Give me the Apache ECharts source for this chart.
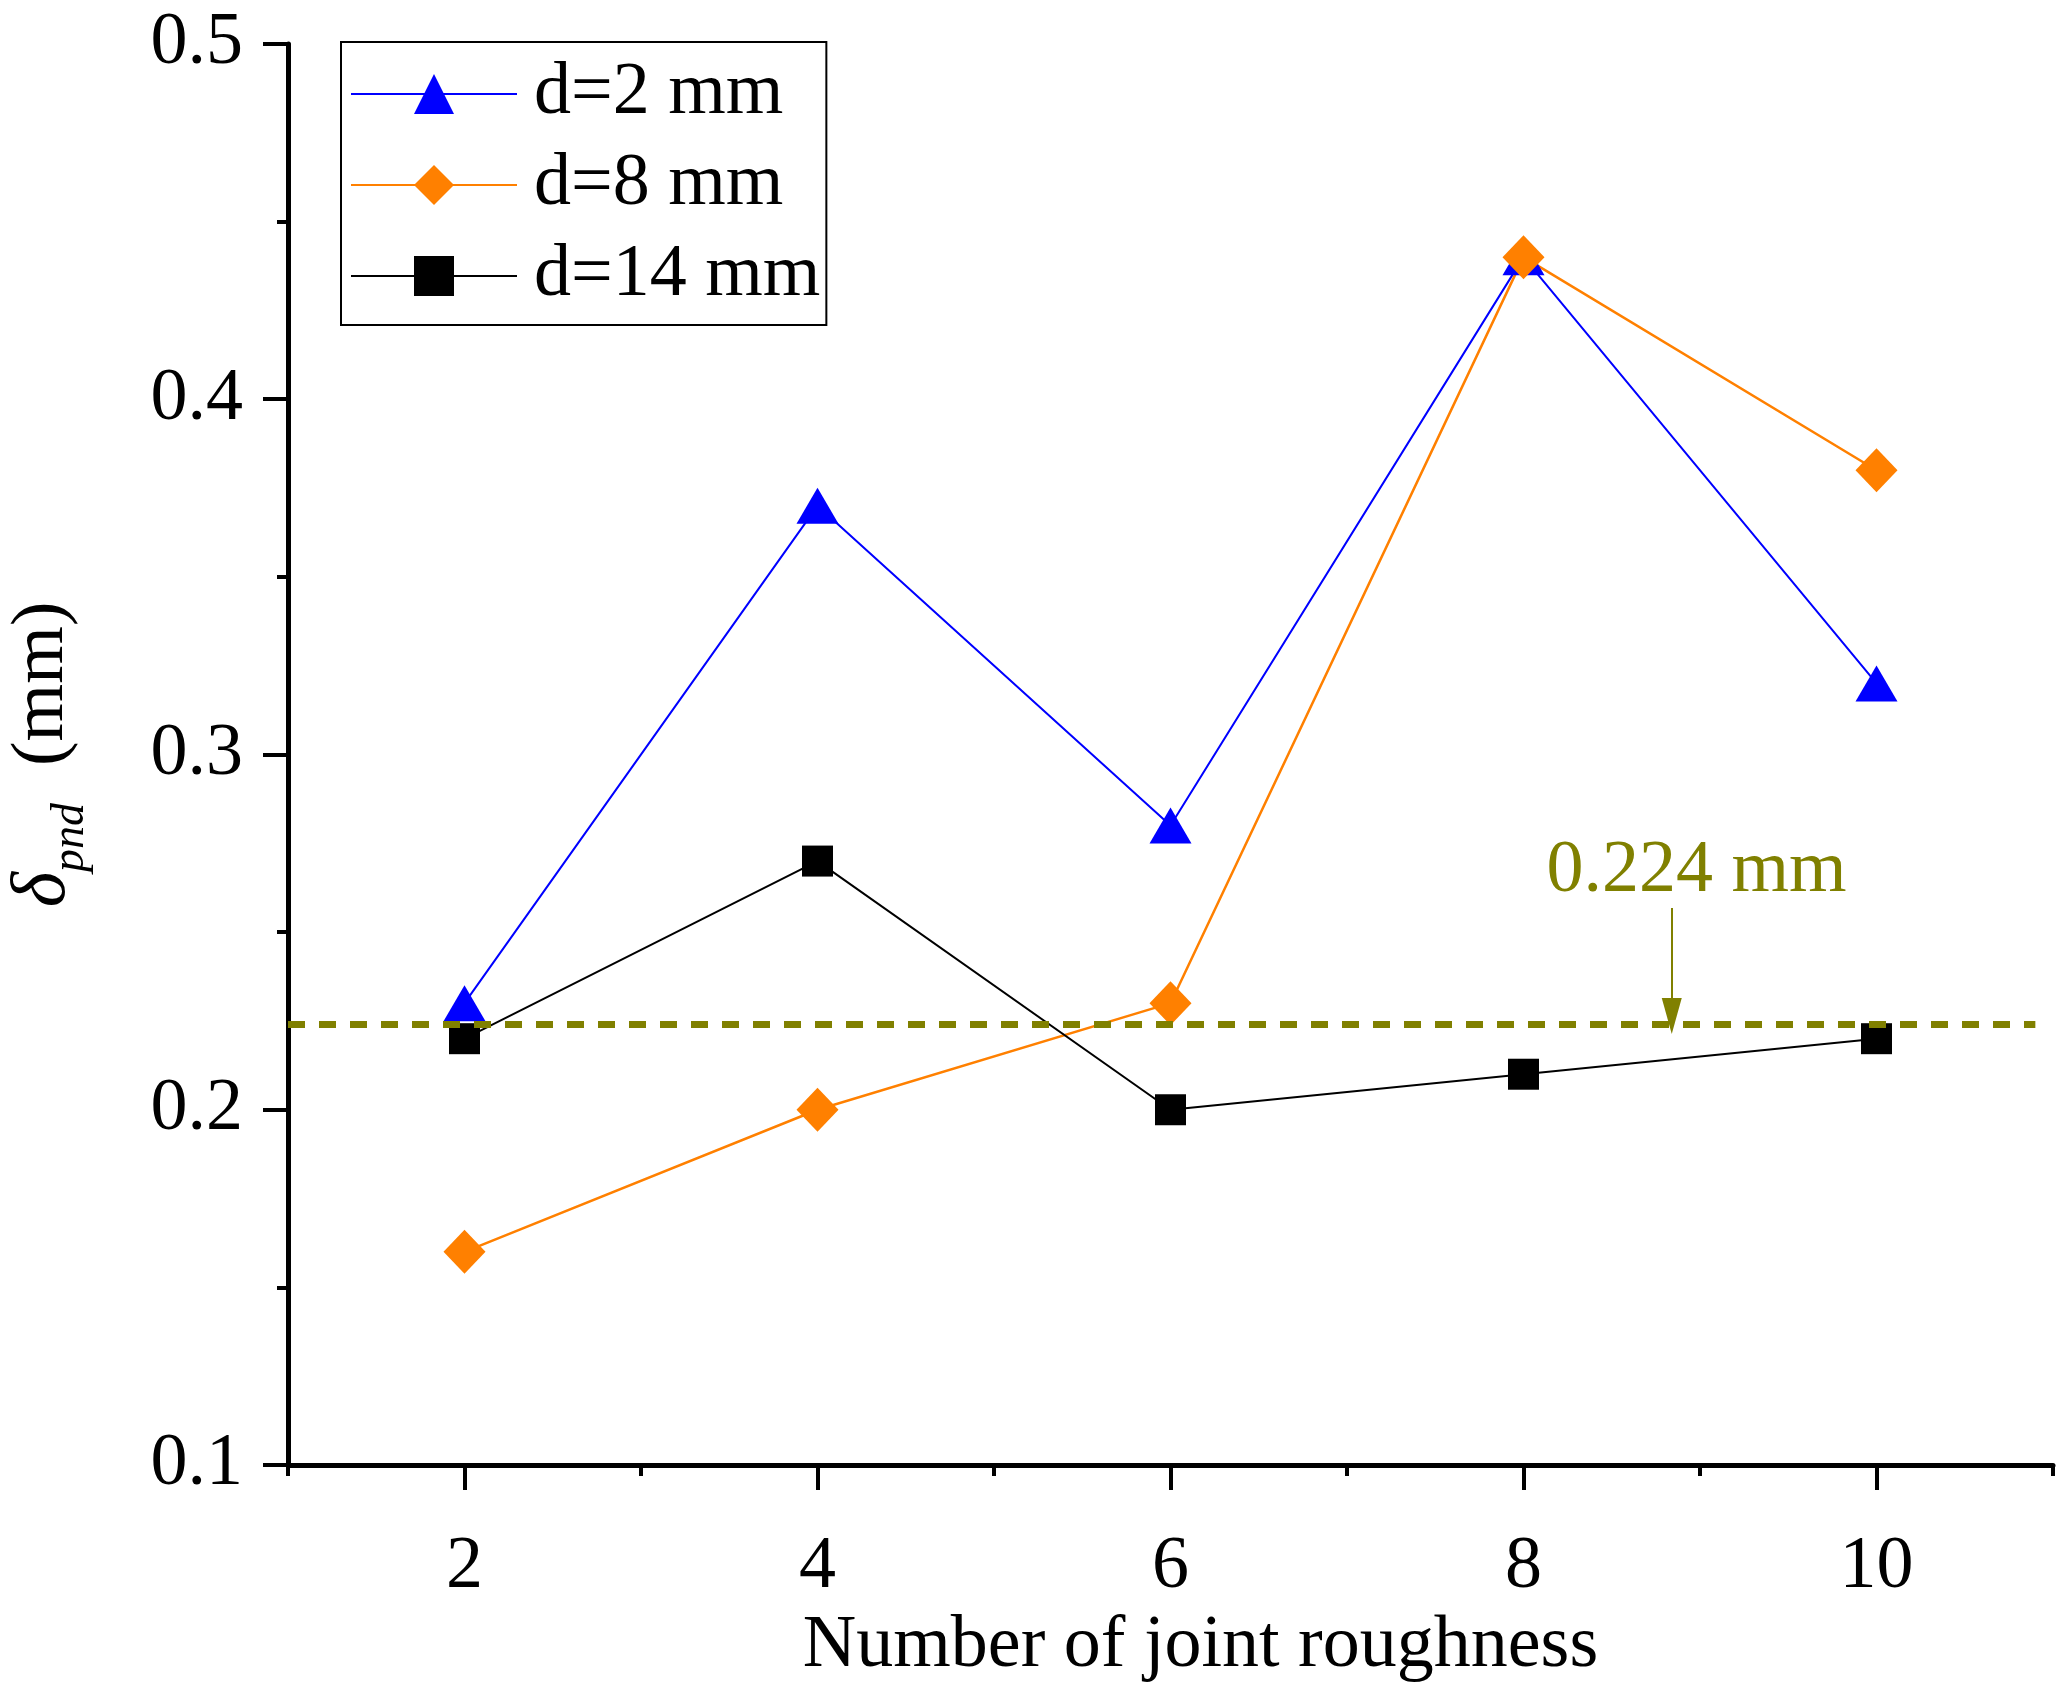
<!DOCTYPE html>
<html>
<head>
<meta charset="utf-8">
<script src="https://cdn.jsdelivr.net/npm/echarts@6/dist/echarts.min.js"></script>
<style>
html,body{margin:0;padding:0;background:#fff;}
#chart{width:2067px;height:1697px;}
</style>
</head>
<body>
<div id="chart"></div>
<script>
// ---- data ----
const xValues = [2, 4, 6, 8, 10];
const d2 = [0.23, 0.37, 0.28, 0.44, 0.32];
const d8 = [0.16, 0.20, 0.23, 0.44, 0.38];
const d14 = [0.22, 0.27, 0.20, 0.21, 0.22];
const seriesNames = ['d=2 mm', 'd=8 mm', 'd=14 mm'];
const refValue = 0.224;
const refLabel = '0.224 mm';
const xTickLabels = ['2', '4', '6', '8', '10'];
const yTickLabels = ['0.1', '0.2', '0.3', '0.4', '0.5'];

const FONT = "'Times New Roman', 'Liberation Serif', serif";
const OLIVE = '#808000';
const pairs = (ys) => xValues.map((x, i) => [x, ys[i]]);

const chart = echarts.init(document.getElementById('chart'), null, {renderer: 'canvas'});
const gridRect = {left: 288, right: 14, top: 44, bottom: 232, outerBoundsMode: 'none', containLabel: false};

chart.setOption({
  backgroundColor: '#ffffff',
  animation: false,
  grid: [Object.assign({}, gridRect), Object.assign({}, gridRect)],
  legend: {
    data: seriesNames,
    orient: 'vertical',
    left: 341,
    top: 42,
    padding: [12, 6, 9, 9],
    itemWidth: 166,
    itemHeight: 50,
    itemGap: 11,
    borderColor: '#000',
    borderWidth: 2,
    selectedMode: false,
    textStyle: {fontFamily: FONT, fontSize: 74, lineHeight: 80, color: '#000', padding: [0, 0, 0, 12]}
  },
  xAxis: [
    {
      gridIndex: 0, type: 'value', min: 1, max: 11, interval: 2,
      name: 'Number of joint roughness',
      nameLocation: 'middle', nameGap: 145, nameMoveOverlap: false,
      nameTextStyle: {fontFamily: FONT, fontSize: 74, lineHeight: 74, color: '#000', padding: [0, 0, 0, 60]},
      axisLine: {show: true, onZero: false, lineStyle: {color: '#000', width: 5}},
      axisTick: {show: true, length: 11, lineStyle: {color: '#000', width: 4}},
      minorTick: {show: true, splitNumber: 2, length: 25, lineStyle: {color: '#000', width: 4}},
      axisLabel: {show: false},
      splitLine: {show: false}, minorSplitLine: {show: false}
    },
    {
      gridIndex: 1, type: 'value', min: 1, max: 11, interval: 1,
      axisLine: {show: false, onZero: false},
      axisTick: {show: false},
      axisLabel: {
        show: true, margin: 66, fontFamily: FONT, fontSize: 74, lineHeight: 74, color: '#000',
        formatter: (v) => { const i = xValues.indexOf(v); return i >= 0 ? xTickLabels[i] : ''; }
      },
      splitLine: {show: false}
    }
  ],
  yAxis: [
    {
      gridIndex: 0, type: 'value', min: 0.1, max: 0.5, interval: 0.1,
      name: '{d|δ}{s|pnd}{m|  (mm)}',
      nameLocation: 'middle', nameRotate: 90, nameGap: 194, nameMoveOverlap: false,
      nameTextStyle: {
        fontFamily: FONT, fontSize: 74, color: '#000',
        rich: {
          d: {fontFamily: FONT, fontSize: 76, fontStyle: 'italic', lineHeight: 88, verticalAlign: 'top', color: '#000'},
          s: {fontFamily: FONT, fontSize: 46, fontStyle: 'italic', lineHeight: 34, verticalAlign: 'bottom', color: '#000'},
          m: {fontFamily: FONT, fontSize: 74, lineHeight: 88, verticalAlign: 'top', color: '#000'}
        }
      },
      axisLine: {show: true, onZero: false, lineStyle: {color: '#000', width: 5}},
      axisTick: {show: true, length: 25, lineStyle: {color: '#000', width: 4}},
      minorTick: {show: true, splitNumber: 2, length: 11, lineStyle: {color: '#000', width: 4}},
      axisLabel: {
        margin: 45, fontFamily: FONT, fontSize: 74, lineHeight: 74, color: '#000',
        formatter: (v) => { const i = Math.round((v - 0.1) / 0.1); return yTickLabels[i] !== undefined ? yTickLabels[i] : ''; }
      },
      splitLine: {show: false}, minorSplitLine: {show: false}
    },
    {gridIndex: 1, type: 'value', min: 0, max: 1, show: false}
  ],
  series: [
    {
      name: seriesNames[0], type: 'line', xAxisIndex: 0, yAxisIndex: 0,
      data: pairs(d2), symbol: 'triangle', symbolSize: [42, 36],
      lineStyle: {color: '#0000ff', width: 2}, itemStyle: {color: '#0000ff'}, emphasis: {disabled: true}
    },
    {
      name: seriesNames[1], type: 'line', xAxisIndex: 0, yAxisIndex: 0,
      data: pairs(d8), symbol: 'diamond', symbolSize: [42, 44],
      lineStyle: {color: '#ff8000', width: 2.5}, itemStyle: {color: '#ff8000'}, emphasis: {disabled: true}
    },
    {
      name: seriesNames[2], type: 'line', xAxisIndex: 0, yAxisIndex: 0,
      data: pairs(d14), symbol: 'rect', symbolSize: [31, 31],
      lineStyle: {color: '#000000', width: 2}, itemStyle: {color: '#000000'}, emphasis: {disabled: true}
    },
    {
      name: 'ref', type: 'line', xAxisIndex: 0, yAxisIndex: 0, data: [],
      markLine: {
        silent: true, symbol: ['none', 'none'], label: {show: false}, emphasis: {disabled: true},
        data: [
          [
            {coord: [1, refValue], lineStyle: {color: OLIVE, width: 7, type: [17, 14]}},
            {coord: [10.9, refValue]}
          ],
          [
            {coord: [8.84, 0.2568], symbol: 'none', lineStyle: {color: OLIVE, width: 2, type: 'solid'}},
            {coord: [8.84, 0.2264], symbol: 'triangle', symbolSize: [20, 36]}
          ]
        ]
      },
      markPoint: {
        silent: true, symbol: 'circle', symbolSize: 1,
        itemStyle: {color: 'rgba(0,0,0,0)'},
        label: {show: true, position: 'inside', formatter: refLabel, fontFamily: FONT, fontSize: 74, color: OLIVE},
        data: [{coord: [8.98, 0.267]}]
      }
    }
  ]
});
</script>
</body>
</html>
